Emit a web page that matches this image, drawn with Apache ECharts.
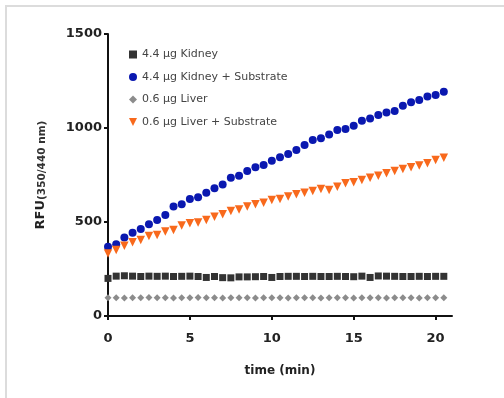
<!DOCTYPE html>
<html>
<head>
<meta charset="utf-8">
<script src="https://cdn.jsdelivr.net/npm/echarts@6/dist/echarts.min.js"></script>
<style>
  html, body { margin: 0; padding: 0; background: #fff; }
  #chart { width: 504px; height: 398px; }
</style>
</head>
<body>
<div id="chart"></div>
<script>
  // time points, 0 .. 20.5 min every 30 s
  var timeMin = [];
  for (var i = 0; i < 42; i++) timeMin.push(i * 0.5);

  var seriesNames = ['4.4 μg Kidney', '4.4 μg Kidney + Substrate', '0.6 μg Liver', '0.6 μg Liver + Substrate'];

  var kidney = [200, 212, 214, 212, 210, 212, 211, 212, 210, 211, 212, 210, 205, 210, 204, 203, 208, 208, 209, 210, 205,
    210, 211, 211, 210, 211, 210, 210, 211, 210, 209, 212, 205, 213, 212, 211, 210, 210, 211, 210, 211, 211];
  var kidneySub = [369, 381, 418, 443, 463, 488, 511, 537, 582, 594, 622, 631, 656, 679, 700, 736, 746, 771, 791, 803, 826,
    844, 862, 883, 910, 936, 945, 966, 989, 995, 1012, 1039, 1051, 1069, 1083, 1090, 1119, 1137, 1149, 1167, 1176, 1193];
  var liver = [97, 97, 96, 97, 97, 98, 97, 97, 96, 97, 97, 98, 97, 97, 96, 97, 97, 97, 96, 97, 97,
    97, 96, 97, 97, 97, 96, 97, 97, 97, 96, 97, 97, 97, 96, 97, 97, 97, 96, 97, 97, 97];
  var liverSub = [333, 351, 374, 392, 404, 426, 431, 449, 457, 481, 493, 498, 511, 528, 541, 559, 567, 582, 594, 603, 617,
    622, 635, 647, 656, 665, 676, 670, 688, 706, 711, 723, 736, 746, 759, 771, 782, 791, 800, 812, 830, 842];

  var xTicks = [0, 5, 10, 15, 20];

  function pairs(ys) {
    return ys.map(function (y, i) { return [timeMin[i], y]; });
  }

  var font = 'DejaVu Sans';
  var chart = echarts.init(document.getElementById('chart'), null, { renderer: 'canvas' });

  chart.setOption({
    animation: false,
    backgroundColor: '#fff',
    grid: { left: 108, right: 52, top: 34, bottom: 82 },
    graphic: [
      { type: 'line', shape: { x1: 6, y1: 5, x2: 6, y2: 398 }, style: { stroke: '#dcdcdc', lineWidth: 2 } },
      { type: 'line', shape: { x1: 5, y1: 6, x2: 504, y2: 6 }, style: { stroke: '#dcdcdc', lineWidth: 2 } }
    ],
    legend: {
      orient: 'vertical',
      left: 124,
      top: 44,
      padding: 5,
      itemWidth: 8,
      itemHeight: 8,
      itemGap: 11.5,
      textStyle: { fontFamily: font, fontSize: 11, color: '#444' },
      data: seriesNames
    },
    xAxis: {
      type: 'value',
      min: 0,
      max: 21,
      interval: 5,
      name: 'time (min)',
      nameLocation: 'middle',
      nameGap: 49,
      nameTextStyle: { fontFamily: font, fontSize: 12, fontWeight: 'bold', color: '#222' },
      splitLine: { show: false },
      axisLine: { lineStyle: { color: '#111', width: 2 } },
      axisTick: { length: 4, lineStyle: { width: 2, color: '#111' }, customValues: xTicks },
      axisLabel: {
        margin: 16,
        customValues: xTicks,
        fontFamily: font, fontSize: 13, fontWeight: 'bold', color: '#222'
      }
    },
    yAxis: {
      type: 'value',
      min: 0,
      max: 1500,
      interval: 500,
      name: '{a|RFU}{b|(350/440 nm)}',
      nameLocation: 'middle',
      nameRotate: 90,
      nameGap: 60,
      nameTextStyle: {
        rich: {
          a: { fontFamily: font, fontSize: 13, fontWeight: 'bold', color: '#222', lineHeight: 14, padding: [0, 0, 4, 0], verticalAlign: 'top' },
          b: { fontFamily: font, fontSize: 10.5, fontWeight: 'bold', color: '#333', lineHeight: 11, verticalAlign: 'bottom' }
        }
      },
      splitLine: { show: false },
      axisLine: { show: true, lineStyle: { color: '#111', width: 2 } },
      axisTick: { show: true, length: 4, lineStyle: { width: 2, color: '#111' } },
      axisLabel: {
        margin: 6, fontFamily: font, fontSize: 13, fontWeight: 'bold', color: '#222',
        formatter: function (v) { return String(v); }
      }
    },
    series: [
      {
        name: seriesNames[0], type: 'scatter', symbol: 'rect', symbolSize: 7,
        itemStyle: { color: '#333', opacity: 1 }, data: pairs(kidney)
      },
      {
        name: seriesNames[1], type: 'scatter', symbol: 'circle', symbolSize: 8,
        itemStyle: { color: '#0a18b0', opacity: 1 }, data: pairs(kidneySub)
      },
      {
        name: seriesNames[2], type: 'scatter', symbol: 'diamond', symbolSize: 7,
        itemStyle: { color: '#8c8c8c', opacity: 1 }, data: pairs(liver)
      },
      {
        name: seriesNames[3], type: 'scatter', symbol: 'path://M0,0 L10,0 L5,10 Z', symbolSize: 8.5,
        itemStyle: { color: '#f8691c', opacity: 1 }, data: pairs(liverSub)
      }
    ]
  });
</script>
</body>
</html>
